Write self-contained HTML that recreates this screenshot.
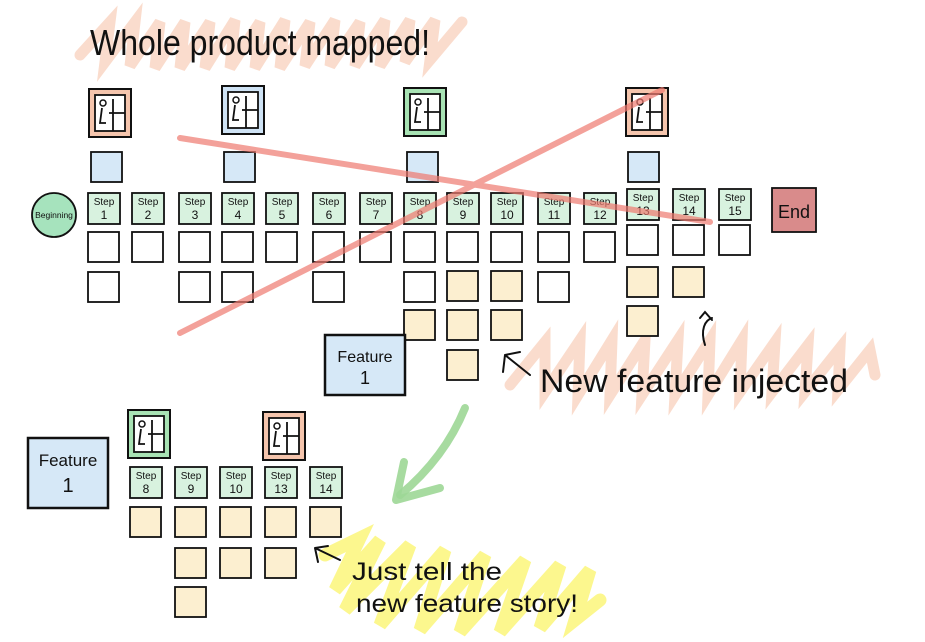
<!DOCTYPE html>
<html><head><meta charset="utf-8"><style>
html,body{margin:0;padding:0;background:#fff;}
svg{display:block;}
text{font-family:"Liberation Sans",sans-serif;fill:#111;}
</style></head><body>
<svg id="s" width="925" height="642" viewBox="0 0 925 642" xmlns="http://www.w3.org/2000/svg">
<g stroke="#f9d3c0" stroke-width="11" stroke-linecap="round" opacity="0.8" fill="none">
<path d="M80 55 L110 22 L105 62 L135 22 L130 66 L160 22 L155 68 L185 22 L180 68 L210 22 L205 68 L235 20 L230 68 L260 22 L255 68 L285 20 L280 68 L310 22 L305 66 L335 20 L330 66 L360 22 L355 66 L385 20 L380 66 L410 20 L405 62 L435 20 L430 60 L462 22"/>
<path d="M510 385 L545 342 L545 392 L580 340 L578 395 L612 340 L610 395 L645 340 L642 395 L678 340 L675 395 L710 340 L708 395 L742 340 L740 392 L775 342 L772 392 L808 345 L805 392 L840 348 L838 390 L870 350 L875 375"/>
</g>
<g stroke="#fbf67a" stroke-width="13" stroke-linecap="round" opacity="0.85" fill="none">
<path d="M325 555 L360 538 L335 590 L380 540 L345 610 L410 545 L380 625 L445 550 L420 630 L485 555 L460 632 L525 560 L500 632 L560 565 L540 628 L590 570 L575 620 L600 600"/>
</g>
<path d="M465 408 C452 440 430 470 400 495" stroke="#9dd796" stroke-width="8" fill="none" stroke-linecap="round" opacity="0.9"/>
<path d="M396 500 L404 462 M396 500 L440 488" stroke="#9dd796" stroke-width="8" fill="none" stroke-linecap="round" opacity="0.9"/>
<text x="90" y="55" font-size="36" textLength="340" lengthAdjust="spacingAndGlyphs">Whole product mapped!</text>
<text x="540" y="392" font-size="32" textLength="308" lengthAdjust="spacingAndGlyphs">New feature injected</text>
<text x="352" y="580" font-size="25" textLength="150" lengthAdjust="spacingAndGlyphs">Just tell the</text>
<text x="356" y="612" font-size="25" textLength="222" lengthAdjust="spacingAndGlyphs">new feature story!</text>
<g stroke="#111" stroke-width="2" fill="none" stroke-linecap="round">
<path d="M505 355 L530 375 M505 355 L503 372 M505 355 L520 352"/>
<path d="M315 548 L340 560 M315 548 L318 562 M315 548 L328 546"/>
<path d="M705 345 C700 330 705 320 712 318 M700 318 L705 312 L712 320"/>
</g>
<g id="g"></g>
<g stroke="#ef7a70" stroke-width="6" stroke-linecap="round" opacity="0.7">
<line x1="180" y1="138" x2="710" y2="222"/>
<line x1="180" y1="333" x2="662" y2="90"/>
</g>
</svg>
<script>
var g=document.getElementById('g'),h='';
function box(x,y,w,hh,fill,sw){h+='<rect x="'+x+'" y="'+y+'" width="'+w+'" height="'+hh+'" fill="'+fill+'" stroke="#111" stroke-width="'+(sw||1.8)+'"/>';}
function persona(x,y,c){box(x,y,42,48,c,2);box(x+6,y+6,30,36,'#fff',0);
h+='<circle cx="'+(x+14)+'" cy="'+(y+14)+'" r="3" fill="none" stroke="#111" stroke-width="1.5"/><path d="M'+(x+13)+' '+(y+19)+' L'+(x+11)+' '+(y+34)+' L'+(x+17)+' '+(y+34)+' M'+(x+24)+' '+(y+10)+' L'+(x+24)+' '+(y+42)+' M'+(x+20)+' '+(y+24)+' L'+(x+36)+' '+(y+24)+'" stroke="#111" stroke-width="1.8" fill="none"/>';}
function step(x,y,n){box(x,y,32,31,'#d8f2df');h+='<text x="'+(x+16)+'" y="'+(y+12)+'" font-size="10" text-anchor="middle">Step</text><text x="'+(x+16)+'" y="'+(y+26)+'" font-size="12" text-anchor="middle">'+n+'</text>';}
persona(89,89,'#f5c5ad');persona(222,86,'#cfe3f5');persona(404,88,'#a8e3b4');persona(626,88,'#f5c5ad');
[91,224,407,628].forEach(function(x){box(x,152,31,30,'#d6e8f7');});
var xs=[88,132,179,222,266,313,360,404,447,491,538,584,627,673,719];
h+='<circle cx="54" cy="215" r="22" fill="#a6e3bd" stroke="#111" stroke-width="1.8"/><text x="54" y="218" font-size="8.5" text-anchor="middle">Beginning</text>';
xs.forEach(function(x,i){step(x,i>11?189:193,i+1);box(x,i>11?225:232,31,30,'#fff');});
box(772,188,44,44,'#d98b8b');h+='<text x="794" y="218" font-size="18" text-anchor="middle">End</text>';
[0,2,3,5,7,10].forEach(function(i){box(xs[i],272,31,30,'#fff');});
[8,9].forEach(function(i){box(xs[i],271,31,30,'#fcefd0');});
[12,13].forEach(function(i){box(xs[i],267,31,30,'#fcefd0');});
[7,8,9].forEach(function(i){box(xs[i],310,31,30,'#fcefd0');});box(627,306,31,30,'#fcefd0');
box(447,350,31,30,'#fcefd0');
box(325,335,80,60,'#d6e8f7',2.5);h+='<text x="365" y="362" font-size="16" text-anchor="middle">Feature</text><text x="365" y="384" font-size="18" text-anchor="middle">1</text>';
box(28,438,80,70,'#d6e8f7',2.5);h+='<text x="68" y="466" font-size="17" text-anchor="middle">Feature</text><text x="68" y="492" font-size="20" text-anchor="middle">1</text>';
persona(128,410,'#a8e3b4');persona(263,412,'#f5c5ad');
var bx=[130,175,220,265,310],bn=[8,9,10,13,14];
bx.forEach(function(x,i){step(x,467,bn[i]);box(x,507,31,30,'#fcefd0');});
[175,220,265].forEach(function(x){box(x,548,31,30,'#fcefd0');});box(175,587,31,30,'#fcefd0');
g.innerHTML=h;
</script>
</body></html>
